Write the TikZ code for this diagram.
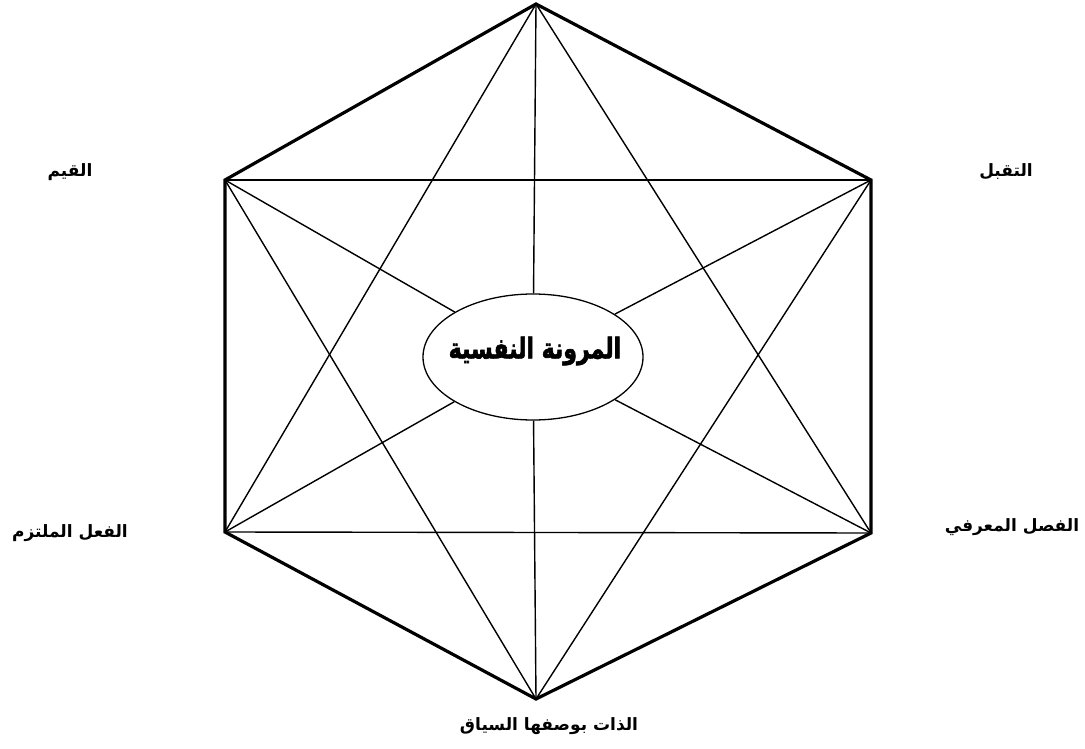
\documentclass[tikz,border=0pt]{standalone}
\usepackage{fontspec}
\TeXXeTstate=1
\newfontfamily\arabicfont[Script=Arabic]{DejaVu Sans}
\newfontfamily\arabicheavy[Script=Arabic,FakeBold=2.5]{DejaVu Sans Bold}
\usetikzlibrary{shapes.geometric}
\begin{document}
\begin{tikzpicture}[x=1pt,y=-1pt,
  hexedge/.style={line width=3.2pt, line join=miter},
  innerline/.style={line width=1.4pt},
  lbl/.style={font=\arabicfont\bfseries\fontsize{17}{21}\selectfont, inner sep=0pt},
  centre/.style={draw, ellipse, line width=1.3pt, minimum width=220pt, minimum height=126pt, inner sep=0pt},
  title/.style={font=\arabicheavy\fontsize{22}{26}\selectfont, inner sep=0pt}
]
\useasboundingbox (0,0) rectangle (1085,749);
\coordinate (T) at (536,4);
\coordinate (UR) at (871,180);
\coordinate (LR) at (871,533);
\coordinate (B) at (536,699);
\coordinate (LL) at (225,532);
\coordinate (UL) at (225,180);

\node[centre] (E) at (533,357) {};
\node[title] (ttl) at (535,351) {\scalebox{1}[1.3]{\beginR المرونة النفسية\endR}};

\draw[innerline] (T) -- (LL);
\draw[innerline] (T) -- (LR);
\draw[innerline] (B) -- (UL);
\draw[innerline] (B) -- (UR);
\draw[innerline] (UL) -- (UR);
\draw[innerline] (LL) -- (LR);
\foreach \v in {T,UR,LR,B,LL,UL} \draw[innerline] (\v) -- (E);

\draw[hexedge] (T) -- (UR) -- (LR) -- (B) -- (LL) -- (UL) -- cycle;

\node[lbl] (qiyam) at (70,172) {\beginR القيم\endR};
\node[lbl] (taqabbul) at (1006,172) {\beginR التقبل\endR};
\node[lbl] (fil) at (70,533) {\beginR الفعل الملتزم\endR};
\node[lbl] (fasl) at (1012,527) {\beginR الفصل المعرفي\endR};
\node[lbl] (dhat) at (549,726) {\beginR الذات بوصفها السياق\endR};
\end{tikzpicture}
\end{document}
